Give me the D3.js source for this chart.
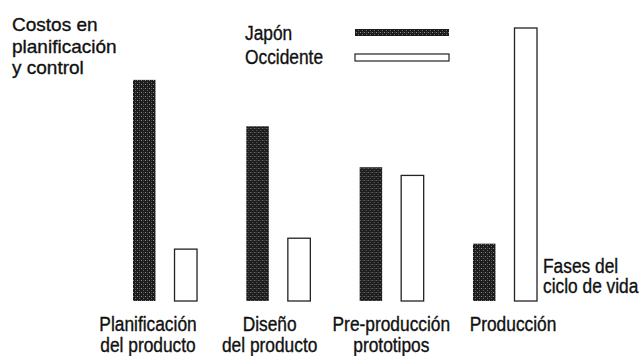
<!DOCTYPE html>
<html>
<head>
<meta charset="utf-8">
<script src="https://cdn.jsdelivr.net/npm/d3@7"></script>
<style>
  body { margin: 0; background: #fff; }
  svg { display: block; }
  text { font-family: "Liberation Sans", Arial, Helvetica, sans-serif; fill: #111; stroke: #111; stroke-width: 0.35px; }
</style>
</head>
<body>
<div id="chart"></div>
<script>
// phases of the life cycle (two-line labels)
const phases = ["Planificación", "Diseño", "Pre-producción", "Producción"]
const phaseLabels = [
  ["Planificación", "del producto"],
  ["Diseño", "del producto"],
  ["Pre-producción", "prototipos"],
  ["Producción"]
]
const seriesNames = ["Japón", "Occidente"]
// relative cost in planning and control (no axis in original)
const japan = [81, 64, 49, 21]
const west = [19, 23, 46, 100]
const titleLines = ["Costos en", "planificación", "y control"]
const xTitleLines = ["Fases del", "ciclo de vida"]

const width = 640
const height = 356
const baseY = 301

const svg = d3.select("#chart")
  .append("svg")
  .attr("width", width)
  .attr("height", height)

// halftone-ish dark fill for Japan bars
const defs = svg.append("defs")
const pat = defs.append("pattern")
  .attr("id", "dots")
  .attr("width", 4)
  .attr("height", 4)
  .attr("patternUnits", "userSpaceOnUse")
pat.append("rect").attr("width", 4).attr("height", 4).attr("fill", "#1c1c1c")
pat.append("rect").attr("x", 0).attr("y", 0).attr("width", 1).attr("height", 1).attr("fill", "#8a8a8a")
pat.append("rect").attr("x", 2).attr("y", 2).attr("width", 1).attr("height", 1).attr("fill", "#6a6a6a")
pat.append("rect").attr("x", 2).attr("y", 0).attr("width", 1).attr("height", 1).attr("fill", "#444")

const x0 = d3.scaleBand()
  .domain(phases)
  .range([133, 537])
  .paddingInner(0.435)
  .paddingOuter(0)

const x1 = d3.scaleBand()
  .domain(seriesNames)
  .range([0, x0.bandwidth()])
  .paddingInner(0.458)

// the printed labels sit a bit off the bar groups, so they get their own scale
const xLab = d3.scalePoint()
  .domain(phases)
  .range([148, 513])

const y = d3.scaleLinear()
  .domain([0, 100])
  .range([baseY, 28])

const rows = phases.map((p, i) => ({ phase: p, values: [japan[i], west[i]] }))

const groups = svg.selectAll("g.group")
  .data(rows)
  .join("g")
  .attr("class", "group")
  .attr("transform", d => `translate(${x0(d.phase)},0)`)

groups.selectAll("rect")
  .data(d => d.values.map((v, k) => ({ key: seriesNames[k], value: v })))
  .join("rect")
  .attr("x", d => x1(d.key))
  .attr("y", d => y(d.value))
  .attr("width", x1.bandwidth())
  .attr("height", d => baseY - y(d.value))
  .attr("fill", d => d.key === "Japón" ? "url(#dots)" : "#fff")
  .attr("stroke", d => d.key === "Japón" ? "none" : "#222")
  .attr("stroke-width", 1.3)

// helper for the slightly condensed label type
function label(x, yy, txt, size, anchor, sx) {
  svg.append("text")
    .attr("transform", `translate(${x},${yy}) scale(${sx},1)`)
    .attr("text-anchor", anchor)
    .attr("font-size", size + "px")
    .text(txt)
}

// category labels
phaseLabels.forEach((lines, i) => {
  lines.forEach((t, j) => label(xLab(phases[i]), 331 + j * 21, t, 19.5, "middle", 0.89))
})

// y title
titleLines.forEach((t, j) => label(12, 31 + j * 21.5, t, 19, "start", 1))

// x title
xTitleLines.forEach((t, j) => label(543, 273 + j * 20, t, 19.5, "start", 0.89))

// legend
const legend = svg.append("g")
seriesNames.forEach((s, i) => {
  label(245, 40 + i * 24, s, 19.5, "start", 0.89)
  legend.append("rect")
    .attr("x", 355)
    .attr("y", 29 + i * 25)
    .attr("width", 94)
    .attr("height", 7)
    .attr("fill", i === 0 ? "url(#dots)" : "#fff")
    .attr("stroke", i === 0 ? "none" : "#222")
    .attr("stroke-width", 1.2)
})
</script>
</body>
</html>
